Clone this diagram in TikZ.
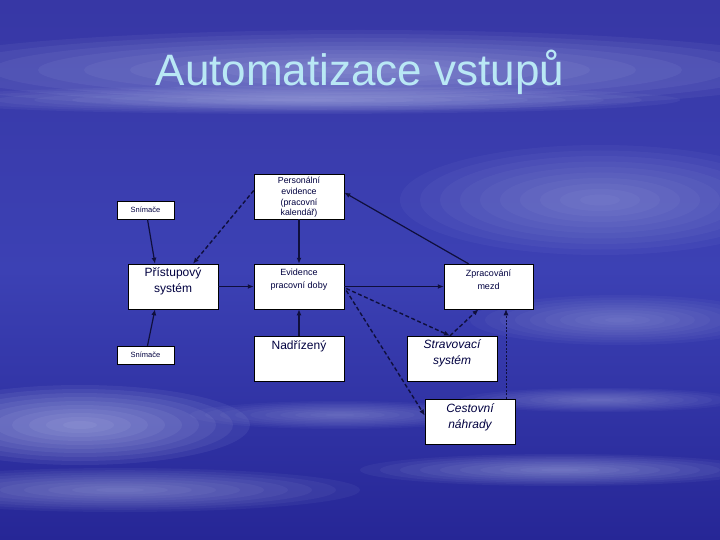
\documentclass[tikz,border=0pt]{standalone}
\usepackage{fontspec}
\setmainfont{Liberation Sans}
\usetikzlibrary{arrows.meta,calc}
\definecolor{bgtop}{RGB}{55,55,165}
\definecolor{bgmid}{RGB}{60,65,180}
\definecolor{bgbot}{RGB}{38,38,150}
\definecolor{linec}{RGB}{15,15,60}
\definecolor{titlec}{RGB}{185,232,245}
\definecolor{cloud}{RGB}{215,222,250}
\newcommand{\bxt}[3]{\parbox[c][#2][t]{#1}{\centering #3}}
\newcommand{\softcloud}[5]{%
  \foreach \k in {1,...,10}{\fill[cloud,opacity=#5] (#1,#2) ellipse ({#3*\k/10} and {#4*\k/10});}}
\begin{document}
\begin{tikzpicture}[x=1pt,y=-1pt,
  bx/.style={draw=black,line width=0.5pt,fill=white,inner sep=0pt,text=black!75!blue,
             minimum width=90pt,minimum height=45pt},
  sm/.style={bx,minimum width=57pt,minimum height=18pt,font=\fontsize{7.5}{9}\selectfont},
  arr/.style={draw=linec,line width=1.2pt,-{Latex[length=6pt,width=5pt]}},
  darr/.style={arr,dashed,dash pattern=on 4pt off 2.5pt,line width=1.4pt},
  tarr/.style={arr,line width=0.8pt,dash pattern=on 2pt off 1.5pt}]
\useasboundingbox (0,0) rectangle (720,540);
% background
\shade[top color=bgtop,bottom color=bgbot,middle color=bgmid] (0,0) rectangle (720,540);
\softcloud{360}{70}{460}{40}{0.06}
\softcloud{300}{100}{380}{14}{0.05}
\softcloud{600}{200}{200}{55}{0.045}
\softcloud{620}{320}{150}{25}{0.04}
\softcloud{80}{425}{170}{40}{0.07}
\softcloud{120}{490}{240}{22}{0.05}
\softcloud{560}{470}{200}{16}{0.05}
\softcloud{340}{415}{150}{14}{0.04}
\softcloud{600}{400}{140}{12}{0.04}
% title
\node[text=titlec,font=\fontsize{44}{50}\selectfont] (title) at (360,72) {Automatizace vstupů};
% boxes
\node[sm] (sn1) at (145.5,210) {Snímače};
\node[bx,font=\fontsize{8.8}{10.8}\selectfont] (pe) at (299,196.5) {\bxt{88pt}{43pt}{\vspace{2pt}Personální\\evidence\\(pracovní\\kalendář)}};
\node[bx,font=\fontsize{12}{16}\selectfont] (pr) at (173,286.5) {\bxt{88pt}{43pt}{\vspace{3pt}Přístupový\\systém}};
\node[bx,font=\fontsize{9}{13}\selectfont] (ev) at (299,286.5) {\bxt{88pt}{43pt}{\vspace{4pt}Evidence\\pracovní doby}};
\node[bx,minimum width=89pt,font=\fontsize{9}{13}\selectfont] (zp) at (488.5,286.5) {\bxt{87pt}{43pt}{\vspace{5pt}Zpracování\\mezd}};
\node[sm] (sn2) at (145.5,355) {Snímače};
\node[bx,font=\fontsize{12}{15}\selectfont] (na) at (299,358.5) {\bxt{88pt}{43pt}{\vspace{4pt}Nadřízený}};
\node[bx,font=\fontsize{12}{16}\selectfont\itshape] (st) at (452,358.5) {\bxt{88pt}{43pt}{\vspace{3pt}Stravovací\\systém}};
\node[bx,font=\fontsize{12}{16}\selectfont\itshape] (ce) at (470,421.5) {\bxt{88pt}{43pt}{\vspace{4pt}Cestovní\\náhrady}};
% connectors
\draw[arr] ($(sn1.south)+(2,0)$) -- ($(pr.north)+(-18,0)$);
\draw[darr] ($(pe.west)+(0,-6)$) -- ($(pr.north)+(20,0)$);
\draw[arr] (pe.south) -- (ev.north);
\draw[arr] ($(sn2.north)+(2,0)$) -- ($(pr.south)+(-18,0)$);
\draw[arr] (pr.east) -- (ev.west);
\draw[arr] (na.north) -- (ev.south);
\draw[arr] (ev.east) -- (zp.west);
\draw[arr] ($(zp.north)+(-20,0)$) -- ($(pe.east)+(0,-4)$);
\draw[darr] ($(ev.east)+(2,2)$) -- ($(st.north)+(-2,0)$);
\draw[darr] ($(st.north)+(-2,0)$) -- ($(zp.south)+(-10,0)$);
\draw[darr] ($(ev.east)+(2,4)$) -- ($(ce.west)+(0,-6)$);
\draw[tarr] ($(ce.north)+(36,0)$) -- ($(zp.south)+(17.5,0)$);
\end{tikzpicture}
\end{document}
